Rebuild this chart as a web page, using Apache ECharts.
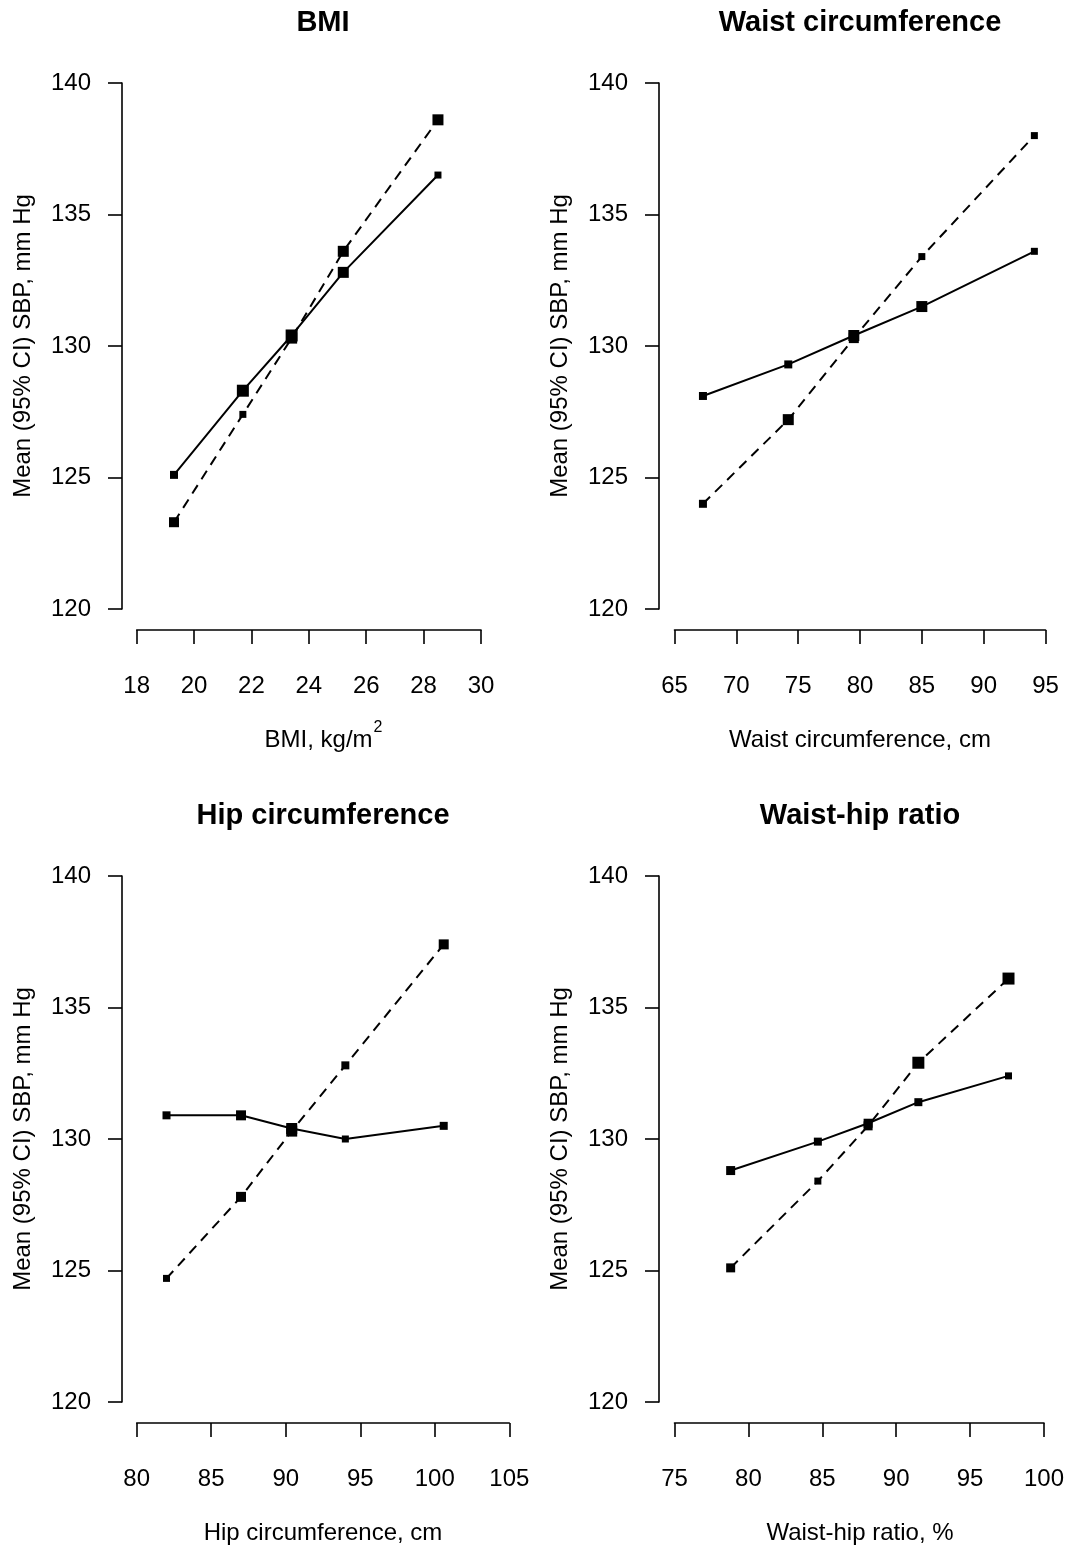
<!DOCTYPE html>
<html><head><meta charset="utf-8">
<script src="https://cdn.jsdelivr.net/npm/echarts@6/dist/echarts.min.js"></script>
<style>html,body{margin:0;padding:0;background:#fff}#c{width:1067px;height:1547px}</style>
</head><body><div id="c"></div>
<script>
// ---- data ----
const panelTitles = ['BMI', 'Waist circumference', 'Hip circumference', 'Waist-hip ratio'];
const xAxisNames = ['BMI, kg/m', 'Waist circumference, cm', 'Hip circumference, cm', 'Waist-hip ratio, %'];
const yAxisName = 'Mean (95% CI) SBP, mm Hg';

const bmiX = [19.3, 21.7, 23.4, 25.2, 28.5];
const bmiSolid = [125.1, 128.3, 130.4, 132.8, 136.5];
const bmiDashed = [123.3, 127.4, 130.3, 133.6, 138.6];

const waistX = [67.3, 74.2, 79.5, 85.0, 94.1];
const waistSolid = [128.1, 129.3, 130.4, 131.5, 133.6];
const waistDashed = [124.0, 127.2, 130.3, 133.4, 138.0];

const hipX = [82.0, 87.0, 90.4, 94.0, 100.6];
const hipSolid = [130.9, 130.9, 130.4, 130.0, 130.5];
const hipDashed = [124.7, 127.8, 130.3, 132.8, 137.4];

const whrX = [78.8, 84.7, 88.1, 91.5, 97.6];
const whrSolid = [128.8, 129.9, 130.6, 131.4, 132.4];
const whrDashed = [125.1, 128.4, 130.5, 132.9, 136.1];

const xTicks = [[18, 30, 2], [65, 95, 5], [80, 105, 5], [75, 100, 5]];
const yTicks = [120, 140, 5];

// marker sizes (visual)
const bmiSolidSz = [8, 12, 12, 11, 7];
const bmiDashedSz = [10, 7, 11, 11, 11];
const waistSolidSz = [8, 8, 11, 11, 7];
const waistDashedSz = [8, 11, 10, 7, 7];
const hipSolidSz = [8, 10, 11, 7, 8];
const hipDashedSz = [7, 10, 11, 8, 10];
const whrSolidSz = [9, 8, 9, 8, 7];
const whrDashedSz = [9, 7, 9, 12, 12];

// ---- layout ----
const FONT = '"Liberation Sans", Arial, sans-serif';
const grids = [
  {left: 136.7, top: 83, width: 344.3, height: 526, yOff: 14.7, cx: 323, ylx: 23},
  {left: 674.5, top: 83, width: 371, height: 526, yOff: 15.5, cx: 860, ylx: 560},
  {left: 136.7, top: 876, width: 372.6, height: 526, yOff: 14.7, cx: 323, ylx: 23},
  {left: 674.5, top: 876, width: 371, height: 526, yOff: 15.5, cx: 860, ylx: 560}
];
const seriesSets = [
  [bmiX, bmiSolid, bmiDashed, bmiSolidSz, bmiDashedSz],
  [waistX, waistSolid, waistDashed, waistSolidSz, waistDashedSz],
  [hipX, hipSolid, hipDashed, hipSolidSz, hipDashedSz],
  [whrX, whrSolid, whrDashed, whrSolidSz, whrDashedSz]
];

const axLine = {lineStyle: {color: '#000', width: 1.6}};
const lbl = {color: '#000', fontSize: 24, fontFamily: FONT};

const option = {
  animation: false,
  backgroundColor: '#fff',
  grid: grids.map(g => ({left: g.left, top: g.top, width: g.width, height: g.height, containLabel: false})),
  xAxis: grids.map((g, i) => ({
    gridIndex: i, type: 'value', min: xTicks[i][0], max: xTicks[i][1], interval: xTicks[i][2],
    offset: 21, axisLine: axLine, axisTick: {show: true, length: 14, lineStyle: {color: '#000', width: 1.6}},
    axisLabel: Object.assign({margin: 44, showMinLabel: true, showMaxLabel: true}, lbl),
    splitLine: {show: false}
  })),
  yAxis: grids.map((g, i) => ({
    gridIndex: i, type: 'value', min: yTicks[0], max: yTicks[1], interval: yTicks[2],
    offset: g.yOff, axisLine: axLine, axisTick: {show: true, length: 14, lineStyle: {color: '#000', width: 1.6}},
    axisLabel: Object.assign({margin: 31}, lbl),
    splitLine: {show: false}
  })),
  series: [],
  graphic: []
};

seriesSets.forEach((s, i) => {
  const [xs, ys1, ys2, sz1, sz2] = s;
  option.series.push({
    type: 'line', xAxisIndex: i, yAxisIndex: i,
    data: xs.map((x, k) => [x, ys1[k]]),
    symbol: 'rect', symbolSize: (v, p) => sz1[p.dataIndex],
    lineStyle: {color: '#000', width: 2, type: 'solid'},
    itemStyle: {color: '#000'}, z: 3
  });
  option.series.push({
    type: 'line', xAxisIndex: i, yAxisIndex: i,
    data: xs.map((x, k) => [x, ys2[k]]),
    symbol: 'rect', symbolSize: (v, p) => sz2[p.dataIndex],
    lineStyle: {color: '#000', width: 2, type: [10, 7]},
    itemStyle: {color: '#000'}, z: 3
  });
});

const ctx = document.createElement('canvas').getContext('2d');
function tw(t, f) { ctx.font = f; return ctx.measureText(t).width; }

grids.forEach((g, i) => {
  // title
  option.graphic.push({type: 'text', x: g.cx, y: g.top - 60, style: {
    text: panelTitles[i], font: 'bold 29px ' + FONT, fill: '#000', align: 'center', verticalAlign: 'middle'}});
  // y label
  option.graphic.push({type: 'text', x: g.ylx, y: g.top + g.height / 2, rotation: Math.PI / 2, style: {
    text: yAxisName, font: '24px ' + FONT, fill: '#000', align: 'center', verticalAlign: 'middle'}});
  // x label
  const ny = g.top + 657;
  if (i === 0) {
    const f = '24px ' + FONT, fs = '16px ' + FONT;
    const w1 = tw(xAxisNames[0], f), w2 = tw('2', fs);
    const x0 = g.cx - (w1 + w2) / 2;
    option.graphic.push({type: 'text', x: x0, y: ny, style: {
      text: xAxisNames[0], font: f, fill: '#000', align: 'left', verticalAlign: 'middle'}});
    option.graphic.push({type: 'text', x: x0 + w1 + 1, y: ny - 12, style: {
      text: '2', font: fs, fill: '#000', align: 'left', verticalAlign: 'middle'}});
  } else {
    option.graphic.push({type: 'text', x: g.cx, y: ny, style: {
      text: xAxisNames[i], font: '24px ' + FONT, fill: '#000', align: 'center', verticalAlign: 'middle'}});
  }
});

const chart = echarts.init(document.getElementById('c'), null, {renderer: 'canvas'});
chart.setOption(option);
</script>
</body></html>
